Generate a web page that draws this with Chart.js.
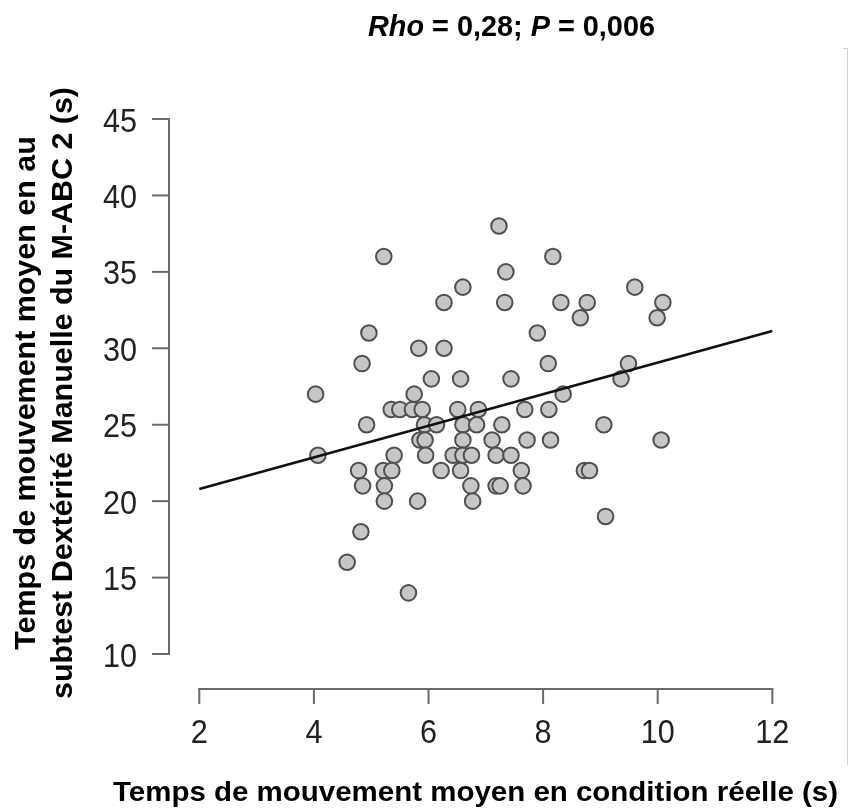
<!DOCTYPE html>
<html><head><meta charset="utf-8">
<script src="https://cdn.jsdelivr.net/npm/chart.js@4.4.0/dist/chart.umd.min.js"></script>
<style>html,body{margin:0;padding:0;background:#fff}#wrap{width:849px;height:810px}</style>
</head><body><div id="wrap"><canvas id="c" width="849" height="810"></canvas></div>
<script>
// ---- data ----
const xValues = [
  7.23,
  5.22, 8.17,
  7.35,
  6.6, 9.6,
  6.27, 7.33, 8.31, 8.77, 10.09,
  8.65, 9.99,
  4.96, 7.9,
  5.83, 6.27,
  4.84, 8.09, 9.49,
  6.05, 6.56, 7.44, 9.36,
  4.03, 5.75, 8.35,
  5.35, 5.5, 5.72, 5.89, 6.51, 6.87, 7.68, 8.1,
  4.92, 5.93, 6.14, 6.6, 6.84, 7.28, 9.06,
  5.85, 5.94, 6.6, 7.11, 7.72, 8.13, 10.06,
  4.07, 5.4, 5.95, 6.43, 6.6, 6.75, 7.18, 7.44,
  4.78, 5.21, 5.36, 6.22, 6.56, 7.62, 8.72, 8.81,
  4.85, 5.23, 6.74, 7.18, 7.25, 7.65,
  5.23, 5.81, 6.77,
  9.09,
  4.82,
  4.58,
  5.65
];
const yValues = [
  38,
  36, 36,
  35,
  34, 34,
  33, 33, 33, 33, 33,
  32, 32,
  31, 31,
  30, 30,
  29, 29, 29,
  28, 28, 28, 28,
  27, 27, 27,
  26, 26, 26, 26, 26, 26, 26, 26,
  25, 25, 25, 25, 25, 25, 25,
  24, 24, 24, 24, 24, 24, 24,
  23, 23, 23, 23, 23, 23, 23, 23,
  22, 22, 22, 22, 22, 22, 22, 22,
  21, 21, 21, 21, 21, 21,
  20, 20, 20,
  19,
  18,
  16,
  14
];
const lineX = [2, 12];
const lineY = [20.8, 31.13];
const xTicks = [2, 4, 6, 8, 10, 12];
const yTicks = [10, 15, 20, 25, 30, 35, 40, 45];
const titleParts = [['Rho', true], [' = 0,28; ', false], ['P', true], [' = 0,006', false]];
const xTitle = 'Temps de mouvement moyen en condition réelle (s)';
const yTitleLines = ['Temps de mouvement moyen en au', 'subtest Dextérité Manuelle du M-ABC 2 (s)'];

const FAM = '"Liberation Sans", Arial, Helvetica, sans-serif';

function drawScaled(ctx, s, x, y, font, align, sx, color) {
  ctx.save();
  ctx.font = font;
  ctx.fillStyle = color;
  ctx.textAlign = align;
  ctx.textBaseline = 'alphabetic';
  ctx.translate(x, y);
  ctx.scale(sx, 1);
  ctx.fillText(s, 0, 0);
  ctx.restore();
}

const axesPlugin = {
  id: 'rAxes',
  afterDraw(chart) {
    const ctx = chart.ctx;
    const xs = chart.scales.x, ys = chart.scales.y;
    const axisColor = '#6a6a6a';
    ctx.save();
    ctx.strokeStyle = axisColor;
    ctx.lineWidth = 2;
    ctx.lineCap = 'square';
    // x axis (offset below plot)
    const ay = Math.round(ys.bottom + 35);
    const xa = xs.getPixelForValue(xTicks[0]), xb = xs.getPixelForValue(xTicks[xTicks.length - 1]);
    ctx.beginPath(); ctx.moveTo(xa, ay); ctx.lineTo(xb, ay); ctx.stroke();
    xTicks.forEach(v => {
      const px = xs.getPixelForValue(v);
      ctx.beginPath(); ctx.moveTo(px, ay); ctx.lineTo(px, ay + 14); ctx.stroke();
      drawScaled(ctx, String(v), px, ay + 54, '34px ' + FAM, 'center', 0.9, '#222');
    });
    // y axis (offset left of plot)
    const ax = Math.round(xs.left - 30);
    const ya = ys.getPixelForValue(yTicks[0]), yb = ys.getPixelForValue(yTicks[yTicks.length - 1]);
    ctx.beginPath(); ctx.moveTo(ax, ya); ctx.lineTo(ax, yb); ctx.stroke();
    yTicks.forEach(v => {
      const py = ys.getPixelForValue(v);
      ctx.beginPath(); ctx.moveTo(ax, py); ctx.lineTo(ax - 16, py); ctx.stroke();
      drawScaled(ctx, String(v), ax - 32, py + 12.5, '34px ' + FAM, 'right', 0.9, '#222');
    });
    ctx.restore();

    // title with italic parts
    ctx.save();
    const tSize = 29;
    let total = 0;
    const widths = titleParts.map(([t, it]) => {
      ctx.font = (it ? 'italic ' : '') + 'bold ' + tSize + 'px ' + FAM;
      const w = ctx.measureText(t).width; total += w; return w;
    });
    const tTarget = 287, tsx = tTarget / total;
    let tx = 511.5 - tTarget / 2;
    titleParts.forEach(([t, it], i) => {
      drawScaled(ctx, t, tx, 36, (it ? 'italic ' : '') + 'bold ' + tSize + 'px ' + FAM, 'left', tsx, '#000');
      tx += widths[i] * tsx;
    });

    // x title
    ctx.font = 'bold 27px ' + FAM;
    const xw = ctx.measureText(xTitle).width;
    const xsx = 725 / xw;
    drawScaled(ctx, xTitle, 113, 801, 'bold 27px ' + FAM, 'left', xsx, '#000');

    // y title (two rotated lines)
    ctx.font = 'bold 30px ' + FAM;
    const yw = ctx.measureText(yTitleLines[1]).width;
    const ysx = 612 / yw;
    const yc = 393;
    [[yTitleLines[0], 35], [yTitleLines[1], 72]].forEach(([t, bx]) => {
      ctx.save();
      ctx.translate(bx, yc);
      ctx.rotate(-Math.PI / 2);
      drawScaled(ctx, t, 0, 0, 'bold 30px ' + FAM, 'center', ysx, '#000');
      ctx.restore();
    });

    // faint frame edge on the right
    ctx.strokeStyle = '#d4d4d4';
    ctx.lineWidth = 1;
    ctx.beginPath(); ctx.moveTo(843, 48.5); ctx.lineTo(847.5, 48.5); ctx.lineTo(847.5, 765); ctx.stroke();
    ctx.restore();
  }
};

new Chart(document.getElementById('c'), {
  type: 'scatter',
  data: {
    datasets: [
      {
        type: 'line',
        data: lineX.map((x, i) => ({ x: x, y: lineY[i] })),
        borderColor: '#111111',
        borderWidth: 2.6,
        pointRadius: 0,
        fill: false,
        order: 0,
        clip: false
      },
      {
        data: xValues.map((x, i) => ({ x: x, y: yValues[i] })),
        backgroundColor: '#c6c6c6',
        borderColor: '#4f4f4f',
        pointRadius: 7.8,
        pointBorderWidth: 2,
        pointBackgroundColor: '#c6c6c6',
        pointBorderColor: '#4f4f4f',
        order: 1,
        clip: false
      }
    ]
  },
  options: {
    responsive: false,
    animation: false,
    devicePixelRatio: 1,
    layout: { padding: { left: 199.3, right: 76.7, top: 119, bottom: 156 } },
    plugins: { legend: { display: false }, tooltip: { enabled: false }, title: { display: false } },
    scales: {
      x: { type: 'linear', min: 2, max: 12, display: false },
      y: { type: 'linear', min: 10, max: 45, display: false }
    }
  },
  plugins: [axesPlugin]
});
</script>
</body></html>
